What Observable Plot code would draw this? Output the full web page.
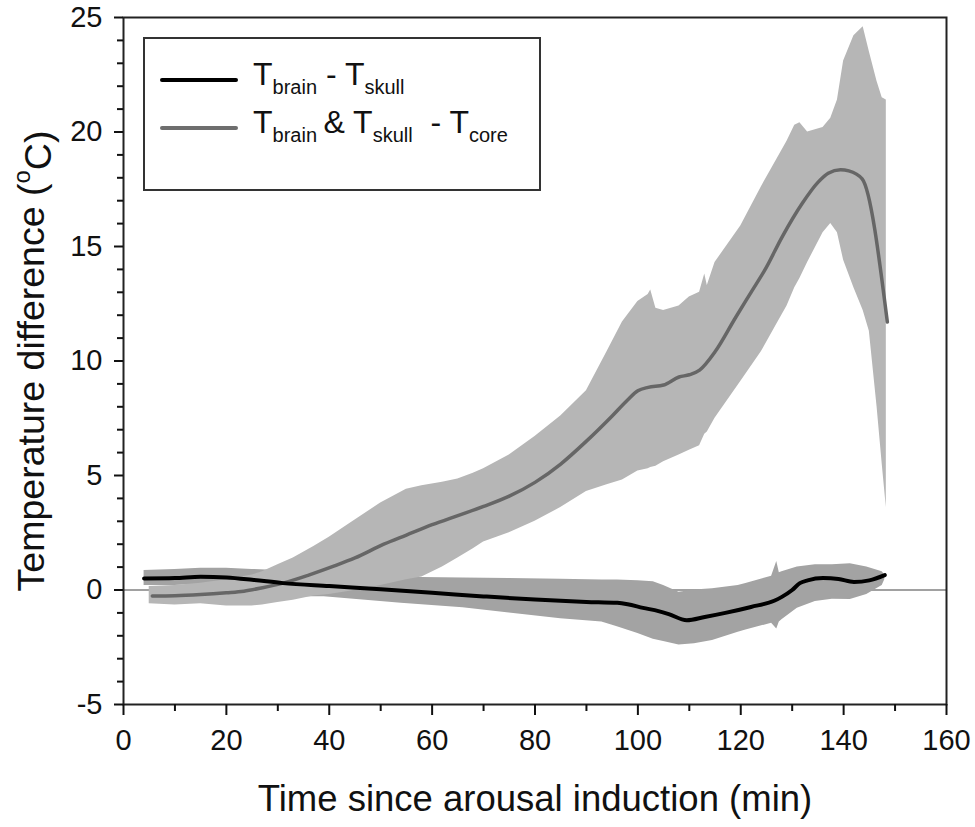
<!DOCTYPE html>
<html>
<head>
<meta charset="utf-8">
<script src="https://cdn.jsdelivr.net/npm/d3@7"></script>
<script src="https://cdn.jsdelivr.net/npm/@observablehq/plot@0.6"></script>
<style>
  html, body { margin: 0; padding: 0; background: #fff; }
  #wrap { position: relative; width: 975px; height: 827px; font-family: "Liberation Sans", Arial, sans-serif; }
  #legend { position: absolute; left: 143px; top: 37px; width: 398px; height: 154px; border: 2px solid #333; background: #fff; box-sizing: border-box; }
  .sample { position: absolute; left: 15px; width: 78px; height: 4px; border-radius: 2px; }
  .lab { position: absolute; left: 108px; font-size: 32px; line-height: 32px; white-space: nowrap; color: #111; }
  .lab sub { font-size: 20px; vertical-align: -9px; line-height: 0; }
</style>
</head>
<body>
<div id="wrap"></div>
<script>
// ---- data ----
// Tbrain - Tskull : mean line
const blackT    = [4, 10, 15, 20, 25, 31, 40, 50, 60, 70, 80, 90, 96, 98, 101, 104, 106, 109.5, 113, 117, 122, 126.5, 128, 130, 131.5, 133, 136, 139, 142, 145, 148];
const blackMean = [0.5, 0.52, 0.58, 0.55, 0.45, 0.3, 0.17, 0.03, -0.12, -0.28, -0.42, -0.52, -0.56, -0.62, -0.78, -0.92, -1.05, -1.32, -1.18, -1.0, -0.74, -0.47, -0.3, 0.0, 0.3, 0.42, 0.52, 0.48, 0.35, 0.42, 0.65];
// Tbrain - Tskull : band
const blackBandT  = [4, 10, 15, 20, 25, 30, 39, 54, 66, 75, 85, 93, 96, 100, 103, 105, 108, 111, 114.5, 119.5, 121, 126, 127, 127.5, 128, 131, 134.5, 137.8, 141.3, 144.5, 147.5, 148];
const blackBandLo = [0.2, 0.2, 0.25, 0.1, -0.1, -0.3, -0.3, -0.58, -0.77, -1.0, -1.25, -1.4, -1.6, -1.9, -2.15, -2.25, -2.4, -2.35, -2.2, -1.85, -1.75, -1.45, -1.7, -1.4, -1.3, -0.8, -0.5, -0.4, -0.42, -0.2, 0.2, 0.45];
const blackBandHi = [0.85, 0.9, 0.95, 0.95, 0.9, 0.85, 0.7, 0.56, 0.52, 0.5, 0.47, 0.44, 0.44, 0.4, 0.36, 0.2, -0.1, 0.0, 0.05, 0.2, 0.28, 0.6, 1.25, 0.75, 0.8, 1.0, 1.1, 1.1, 1.15, 1.0, 0.8, 0.65];
// Tbrain & Tskull - Tcore : mean line
const grayT    = [5.6, 10, 15, 20, 23.4, 27, 31, 36, 41, 45, 50.6, 55, 60, 65, 70, 75, 80, 85, 90, 95, 98, 100, 102, 105, 108, 110, 112, 115, 119, 122, 125, 128, 132, 135, 137, 139.4, 141, 143.6, 148.5];
const grayMean = [-0.26, -0.25, -0.2, -0.12, -0.05, 0.1, 0.3, 0.65, 1.05, 1.4, 2.0, 2.4, 2.85, 3.25, 3.65, 4.1, 4.7, 5.5, 6.5, 7.6, 8.3, 8.7, 8.85, 8.95, 9.3, 9.4, 9.6, 10.4, 11.9, 13.0, 14.1, 15.4, 16.9, 17.8, 18.2, 18.35, 18.3, 17.95, 11.7];
// Tbrain & Tskull - Tcore : band
const grayBandT  = [5, 10, 15, 20, 25, 27, 30, 33, 37, 40, 44, 50, 55, 58, 62, 65, 68, 70, 75, 80, 85, 90, 94, 97, 100, 102, 102.5, 103.5, 105, 108, 110, 112, 113, 113.5, 115, 120, 124, 127, 129, 130.5, 131.5, 133, 136, 137.5, 138.8, 140, 142, 143.8, 145, 146.5, 147.5, 148.3];
const grayBandHi = [0.15, 0.2, 0.3, 0.45, 0.65, 0.8, 1.1, 1.4, 1.9, 2.3, 2.9, 3.8, 4.4, 4.55, 4.7, 4.85, 5.1, 5.3, 5.9, 6.7, 7.6, 8.7, 10.4, 11.7, 12.6, 12.9, 13.1, 12.3, 12.2, 12.4, 12.8, 13.0, 13.8, 13.3, 14.3, 15.9, 17.6, 18.8, 19.6, 20.3, 20.4, 20.0, 20.2, 20.6, 21.4, 23.1, 24.2, 24.6, 23.5, 22.2, 21.5, 21.4];
const grayBandLo = [-0.6, -0.65, -0.6, -0.7, -0.7, -0.65, -0.55, -0.45, -0.26, -0.2, -0.05, 0.2, 0.45, 0.57, 1.0, 1.4, 1.8, 2.1, 2.5, 3.0, 3.6, 4.3, 4.6, 4.8, 5.2, 5.3, 5.35, 5.4, 5.6, 5.9, 6.1, 6.3, 6.8, 6.9, 7.5, 9.1, 10.4, 11.6, 12.4, 13.2, 13.6, 14.3, 15.6, 16.0, 15.6, 14.4, 13.2, 12.2, 11.3, 8.0, 5.5, 3.6];

// ticks
const xMajor = [0, 20, 40, 60, 80, 100, 120, 140, 160];
const xMinor = [10, 30, 50, 70, 90, 110, 130, 150];
const yMajor = [-5, 0, 5, 10, 15, 20, 25];
const yMinor = [-4, -3, -2, -1, 1, 2, 3, 4, 6, 7, 8, 9, 11, 12, 13, 14, 16, 17, 18, 19, 21, 22, 23, 24];
const xTitle = "Time since arousal induction (min)";
const yTitle = "Temperature difference (oC)";

// ---- tables ----
const blackLine = blackT.map((t, i) => ({t, v: blackMean[i]}));
const blackBand = blackBandT.map((t, i) => ({t, lo: blackBandLo[i], hi: blackBandHi[i]}));
const grayLine = grayT.map((t, i) => ({t, v: grayMean[i]}));
const grayBand = grayBandT.map((t, i) => ({t, lo: grayBandLo[i], hi: grayBandHi[i]}));

const chart = Plot.plot({
  width: 975,
  height: 827,
  marginLeft: 123,
  marginRight: 29,
  marginTop: 17,
  marginBottom: 123,
  x: {domain: [0, 160]},
  y: {domain: [-5, 25]},
  style: {fontFamily: "'Liberation Sans', Arial, sans-serif", background: "#fff", color: "#111"},
  marks: [
    Plot.ruleY([0], {stroke: "#444", strokeWidth: 1.2}),
    Plot.areaY(blackBand, {x: "t", y1: "lo", y2: "hi", fill: "#a3a3a3"}),
    Plot.areaY(grayBand, {x: "t", y1: "lo", y2: "hi", fill: "#b6b6b6"}),
    Plot.line(grayLine, {x: "t", y: "v", stroke: "#666", strokeWidth: 3.5, curve: "monotone-x"}),
    Plot.line(blackLine, {x: "t", y: "v", stroke: "#000", strokeWidth: 4, curve: "monotone-x"}),
    Plot.frame({stroke: "#222", strokeWidth: 2}),
    Plot.axisX(xMajor, {tickSize: 11, tickPadding: 14, fontSize: 29, strokeWidth: 2, label: null, tickFormat: d => String(d)}),
    Plot.axisX(xMinor, {tickSize: 7, strokeWidth: 2, tickFormat: () => "", label: null}),
    Plot.axisY(yMajor, {tickSize: 9, tickPadding: 12, fontSize: 29, strokeWidth: 2, label: null, tickFormat: d => String(d)}),
    Plot.axisY(yMinor, {tickSize: 6, strokeWidth: 2, tickFormat: () => "", label: null}),
    Plot.text([xTitle], {frameAnchor: "bottom", dy: 106, fontSize: 36.5, text: d => d, fill: "#111", textAnchor: "middle"}),
    Plot.text([yTitle], {frameAnchor: "left", dx: -92, rotate: -90, fontSize: 37.5, text: d => d, fill: "#111", textAnchor: "middle"})
  ]
});

// superscript "o" in the y title
d3.select(chart).selectAll("text").filter(function () { return this.textContent === yTitle; })
  .each(function () {
    const t = d3.select(this);
    t.text(null);
    t.append("tspan").text("Temperature difference (");
    t.append("tspan").text("o").attr("font-size", 24).attr("dy", "-0.55em");
    t.append("tspan").text("C)").attr("dy", "0.55em");
  });

const wrap = document.getElementById("wrap");
wrap.appendChild(chart);

// legend
const legend = document.createElement("div");
legend.id = "legend";
legend.innerHTML =
  '<div class="sample" style="top:39px;background:#000"></div>' +
  '<div class="lab" style="top:19px">T<sub>brain</sub> - T<sub>skull</sub></div>' +
  '<div class="sample" style="top:87px;background:#6e6e6e"></div>' +
  '<div class="lab" style="top:67px">T<sub>brain</sub>&thinsp;&amp; T<sub>skull</sub>&nbsp;&nbsp;- T<sub>core</sub></div>';
wrap.appendChild(legend);
</script>
</body>
</html>
